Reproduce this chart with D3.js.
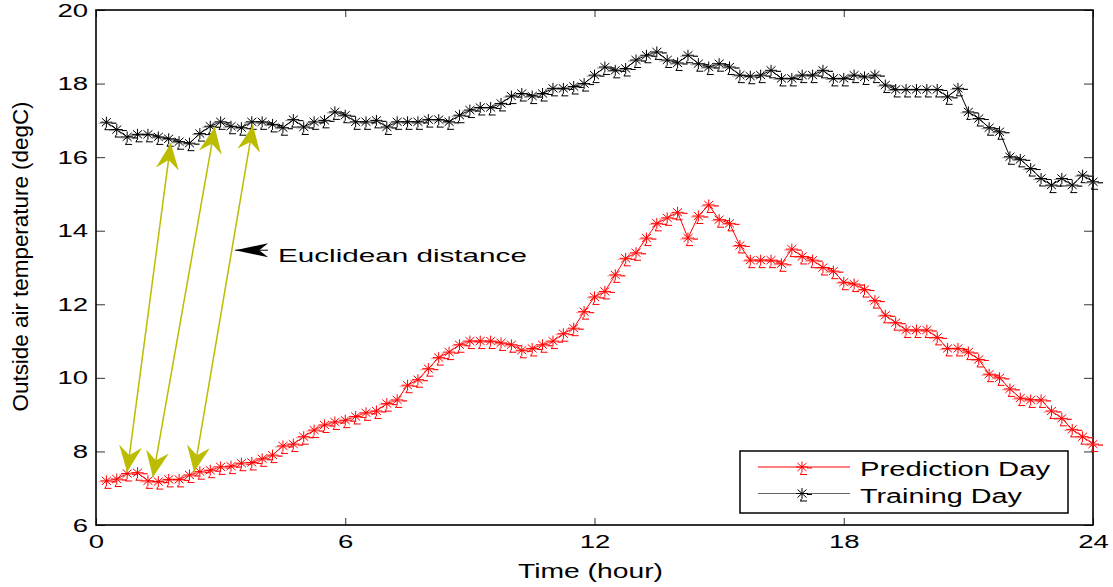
<!DOCTYPE html>
<meta charset="utf-8">
<style>
  body { margin: 0; background: #fff; }
  svg text { font-family: "Liberation Sans", Arial, sans-serif; fill: #000; }
</style>
<body>
<div id="chart"></div>
<script src="https://d3js.org/d3.v7.min.js"></script>
<script>

// time of day (hour), 15 min steps
var hours = [0.25, 0.5, 0.75, 1, 1.25, 1.5, 1.75, 2, 2.25, 2.5, 2.75, 3, 3.25, 3.5, 3.75, 4,
  4.25, 4.5, 4.75, 5, 5.25, 5.5, 5.75, 6, 6.25, 6.5, 6.75, 7, 7.25, 7.5, 7.75, 8,
  8.25, 8.5, 8.75, 9, 9.25, 9.5, 9.75, 10, 10.25, 10.5, 10.75, 11, 11.25, 11.5, 11.75, 12,
  12.25, 12.5, 12.75, 13, 13.25, 13.5, 13.75, 14, 14.25, 14.5, 14.75, 15, 15.25, 15.5, 15.75, 16,
  16.25, 16.5, 16.75, 17, 17.25, 17.5, 17.75, 18, 18.25, 18.5, 18.75, 19, 19.25, 19.5, 19.75, 20,
  20.25, 20.5, 20.75, 21, 21.25, 21.5, 21.75, 22, 22.25, 22.5, 22.75, 23, 23.25, 23.5, 23.75, 24];

var predictionDay = [7.2, 7.25, 7.4, 7.42, 7.2, 7.18, 7.24, 7.24, 7.36, 7.45, 7.49, 7.58, 7.6, 7.68, 7.7, 7.8,
  7.9, 8.15, 8.2, 8.4, 8.58, 8.72, 8.8, 8.85, 8.95, 9.05, 9.1, 9.3, 9.4, 9.8, 9.95, 10.25,
  10.55, 10.7, 10.9, 11.0, 11.0, 11.0, 10.95, 10.9, 10.75, 10.8, 10.9, 11.0, 11.2, 11.35, 11.8, 12.2,
  12.35, 12.8, 13.25, 13.4, 13.8, 14.2, 14.35, 14.5, 13.8, 14.4, 14.7, 14.3, 14.2, 13.6, 13.2, 13.2,
  13.2, 13.1, 13.5, 13.3, 13.2, 13.0, 12.9, 12.6, 12.55, 12.4, 12.1, 11.7, 11.5, 11.3, 11.3, 11.3,
  11.1, 10.8, 10.8, 10.7, 10.5, 10.1, 10.0, 9.7, 9.45, 9.4, 9.4, 9.1, 8.9, 8.6, 8.4, 8.2];

var trainingDay = [16.95, 16.75, 16.55, 16.62, 16.62, 16.55, 16.5, 16.42, 16.38, 16.64, 16.84, 16.96, 16.84, 16.8, 16.96, 16.96,
  16.89, 16.8, 17.02, 16.82, 16.96, 17.0, 17.23, 17.14, 16.96, 16.96, 17.0, 16.82, 16.96, 16.96, 16.96, 17.02,
  17.02, 16.96, 17.14, 17.28, 17.35, 17.35, 17.46, 17.66, 17.73, 17.66, 17.73, 17.87, 17.87, 17.92, 18.0, 18.23,
  18.45, 18.36, 18.41, 18.64, 18.77, 18.86, 18.64, 18.56, 18.77, 18.54, 18.45, 18.54, 18.45, 18.23, 18.2, 18.23,
  18.36, 18.14, 18.14, 18.23, 18.23, 18.36, 18.14, 18.14, 18.23, 18.18, 18.23, 17.96, 17.84, 17.84, 17.84, 17.84,
  17.84, 17.64, 17.87, 17.23, 17.05, 16.8, 16.69, 16.01, 15.94, 15.69, 15.42, 15.24, 15.42, 15.24, 15.51, 15.33];

var seriesNames = ["Prediction Day", "Training Day"];
var xTicks = [0, 6, 12, 18, 24];
var yTicks = [6, 8, 10, 12, 14, 16, 18, 20];

// distance arrows: [hour, temp] at prediction end, [hour, temp] at training end
var distanceArrows = [
  [[0.75, 7.44], [1.8, 16.38]],
  [[1.37, 7.3], [2.86, 16.82]],
  [[2.36, 7.44], [3.78, 16.87]]
];
var noteText = "Euclidean distance";
var noteAt = [4.38, 13.15];      // text start
var noteArrow = [[4.14, 13.47], [3.35, 13.47]];  // tail -> tip

// figure was exported stretched sideways, text too
var sx = 1.45;

var margin = {top: 10, right: 20, bottom: 62, left: 96},
    width = 1113 - margin.left - margin.right,
    height = 587 - margin.top - margin.bottom;

var svg = d3.select("#chart")
  .append("svg")
    .attr("width", width + margin.left + margin.right)
    .attr("height", height + margin.top + margin.bottom)
  .append("g")
    .attr("transform", "translate(" + margin.left + "," + margin.top + ")");

var x = d3.scaleLinear().domain([0, 24]).range([0, width]);
var y = d3.scaleLinear().domain([6, 20]).range([height, 0]);

// axes, ticks inside like matlab
var gx = svg.append("g")
  .attr("transform", "translate(0," + height + ")")
  .call(d3.axisBottom(x).tickValues(xTicks).tickSizeInner(-7).tickSizeOuter(0).tickPadding(10));
gx.selectAll("text").style("font-size", "19px").attr("transform", "scale(" + sx + ",1)");

var gy = svg.append("g")
  .call(d3.axisLeft(y).tickValues(yTicks).tickSizeInner(-9).tickSizeOuter(0).tickPadding(5.5));
gy.selectAll("text").style("font-size", "19px").attr("transform", "scale(" + sx + ",1)");

svg.append("g")
  .call(d3.axisTop(x).tickValues(xTicks).tickSizeInner(-7).tickSizeOuter(0).tickFormat(""));
svg.append("g")
  .attr("transform", "translate(" + width + ",0)")
  .call(d3.axisRight(y).tickValues(yTicks).tickSizeInner(-9).tickSizeOuter(0).tickFormat(""));

svg.selectAll(".domain").remove();
svg.selectAll(".tick line").attr("stroke", "#333");

svg.append("rect")
  .attr("width", width)
  .attr("height", height)
  .attr("fill", "none")
  .attr("stroke", "#000")
  .attr("stroke-width", 1.6);

// axis titles
svg.append("text")
  .attr("x", x(12) - 4)
  .attr("y", height + 53)
  .attr("text-anchor", "middle")
  .attr("textLength", 145)
  .attr("lengthAdjust", "spacingAndGlyphs")
  .style("font-size", "20px")
  .text("Time (hour)");

svg.append("text")
  .attr("transform", "translate(-76," + y(13.3) + ") scale(1.2,1) rotate(-90)")
  .attr("text-anchor", "middle")
  .attr("dy", "0.35em")
  .attr("textLength", 310)
  .attr("lengthAdjust", "spacingAndGlyphs")
  .style("font-size", "19px")
  .text("Outside air temperature (degC)");

// series
var starPath = "M-6,0H6M0,-5.5V5.5M-4.5,-4L4.5,4M-4.5,4L4.5,-4";
var capPath = "M-1,5.5V7.5M-2,7.5H5M5,1H10";

function drawSeries(values, color, light) {
  var line = d3.line()
    .x(function(d, i) { return x(hours[i]); })
    .y(function(d) { return y(d); });

  svg.append("path")
    .datum(values)
    .attr("fill", "none")
    .attr("stroke", color)
    .attr("stroke-width", 1)
    .attr("d", line);

  var pts = svg.append("g").selectAll("g")
    .data(values)
    .enter().append("g")
      .attr("transform", function(d, i) { return "translate(" + x(hours[i]) + "," + y(d) + ")"; });

  pts.append("path").attr("d", "M-8,1H10").attr("stroke", light).attr("stroke-width", 1);
  pts.append("path").attr("d", starPath).attr("stroke", color).attr("stroke-width", 1).attr("fill", "none");
  pts.append("path").attr("d", capPath).attr("stroke", color).attr("stroke-width", 1).attr("fill", "none");
}

drawSeries(trainingDay, "#000", "#999");
drawSeries(predictionDay, "#ff0000", "#ff9090");

// arrow head helper: filled, notched
function arrowHead(tip, from, len, half, notch, color) {
  var dx = tip[0] - from[0], dy = tip[1] - from[1];
  var n = Math.sqrt(dx * dx + dy * dy);
  var ux = dx / n, uy = dy / n, px = -uy, py = ux;
  var bx = tip[0] - ux * len, by = tip[1] - uy * len;
  var nx = tip[0] - ux * (len - notch), ny = tip[1] - uy * (len - notch);
  svg.append("path")
    .attr("d", "M" + tip[0] + "," + tip[1] +
      "L" + (bx + px * half) + "," + (by + py * half) +
      "L" + nx + "," + ny +
      "L" + (bx - px * half) + "," + (by - py * half) + "Z")
    .attr("fill", color);
}

var yellow = "#bcbc00";
distanceArrows.forEach(function(a) {
  var p1 = [x(a[0][0]), y(a[0][1])], p2 = [x(a[1][0]), y(a[1][1])];
  svg.append("line")
    .attr("x1", p1[0]).attr("y1", p1[1])
    .attr("x2", p2[0]).attr("y2", p2[1])
    .attr("stroke", yellow)
    .attr("stroke-width", 1.5);
  arrowHead(p1, p2, 26, 11.5, 9, yellow);
  arrowHead(p2, p1, 26, 11.5, 9, yellow);
});

// annotation
var tail = [x(noteArrow[0][0]), y(noteArrow[0][1])], tip = [x(noteArrow[1][0]), y(noteArrow[1][1])];
svg.append("line")
  .attr("x1", tail[0]).attr("y1", tail[1])
  .attr("x2", tip[0]).attr("y2", tip[1])
  .attr("stroke", "#000").attr("stroke-width", 1);
arrowHead(tip, tail, 33, 7, 9, "#000");

svg.append("text")
  .attr("x", x(noteAt[0]))
  .attr("y", y(noteAt[1]))
  .attr("textLength", 249)
  .attr("lengthAdjust", "spacingAndGlyphs")
  .style("font-size", "19px")
  .text(noteText);

// legend
var legend = svg.append("g").attr("transform", "translate(644,441)");
legend.append("rect")
  .attr("width", 328).attr("height", 62)
  .attr("fill", "#fff").attr("stroke", "#000").attr("stroke-width", 1.5);

var legendColors = ["#ff0000", "#666"], legendStar = ["#ff0000", "#000"];
var textLens = [190, 162];
seriesNames.forEach(function(name, i) {
  var ly = 16 + i * 26.5;
  legend.append("line")
    .attr("x1", 18).attr("x2", 110).attr("y1", ly).attr("y2", ly)
    .attr("stroke", legendColors[i]).attr("stroke-width", 1);
  var m = legend.append("g").attr("transform", "translate(62," + ly + ")");
  m.append("path").attr("d", starPath).attr("stroke", legendStar[i]).attr("fill", "none");
  m.append("path").attr("d", capPath).attr("stroke", legendStar[i]).attr("fill", "none");
  legend.append("text")
    .attr("x", 120)
    .attr("y", ly + 9)
    .attr("textLength", textLens[i])
    .attr("lengthAdjust", "spacingAndGlyphs")
    .style("font-size", "20px")
    .text(name);
});

</script>
</body>
